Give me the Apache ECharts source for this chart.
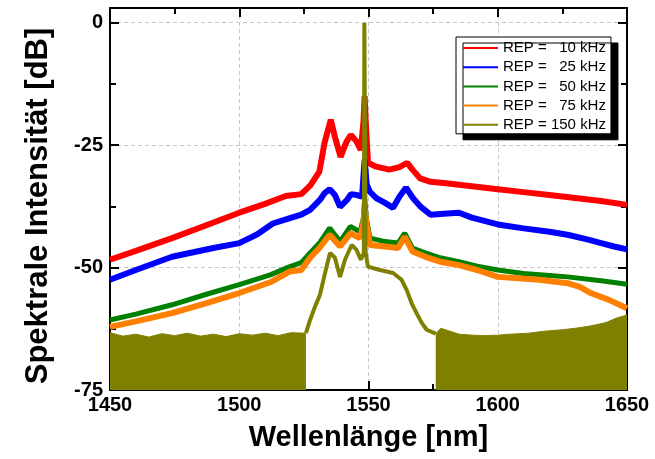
<!DOCTYPE html>
<html>
<head>
<meta charset="utf-8">
<script src="https://cdn.jsdelivr.net/npm/echarts@6/dist/echarts.min.js"></script>
<style>
html,body{margin:0;padding:0;background:#fff;}
#chart{width:655px;height:459px;}
</style>
</head>
<body>
<div id="chart"></div>
<script>
// ---- Data ----
const seriesNames = ['REP =   10 kHz', 'REP =   25 kHz', 'REP =   50 kHz', 'REP =   75 kHz', 'REP = 150 kHz'];
const xTicks = [1450, 1500, 1550, 1600, 1650];
const yTicks = [-75, -50, -25, 0];

const wlRed = [1450,1460,1474,1487,1500,1510,1518,1524,1527.5,1531,1533,1535.4,1537,1539.2,1541.5,1543.2,1545.4,1547,1548.1,1548.5,1548.9,1549.8,1553,1558,1562,1565,1567,1570,1574,1580,1590,1600,1610,1620,1630,1640,1650];
const dbRed = [-48.4,-46.6,-44,-41.4,-38.8,-37,-35.4,-35,-33.2,-30.4,-24.5,-19.8,-23.3,-27.4,-24.3,-22.9,-24.3,-26,-20,-15,-20,-28.6,-29.4,-30,-29.5,-28.6,-30,-31.8,-32.5,-32.8,-33.4,-34,-34.6,-35.2,-35.8,-36.4,-37.2];

const wlBlue = [1450,1460,1474,1490,1500,1507,1513,1519.6,1524,1527.4,1531.2,1533,1535,1537,1539,1541.7,1543.2,1545.5,1547.5,1548.5,1549.3,1550.5,1553,1556.4,1559.5,1562,1564.5,1567.2,1570,1574,1579,1585,1590,1600,1610,1620,1627,1635,1640,1645,1650];
const dbBlue = [-52.5,-50.5,-47.8,-46,-45,-43.2,-41,-39.9,-39.2,-38.2,-36.2,-34.8,-34,-35.2,-37.6,-36.2,-35,-35.2,-35.5,-28,-33,-34.5,-35.8,-36.8,-37.8,-35.5,-33.7,-35.8,-37.5,-39.2,-39,-38.8,-39.8,-41.2,-42,-42.7,-43.3,-44.3,-45,-45.7,-46.3];

const wlGreen = [1450,1460,1474,1487,1500,1512,1519.6,1524,1527.4,1531,1535,1539,1543,1546.7,1548,1548.5,1549.2,1550.6,1556.4,1561.4,1564,1567,1572,1577.7,1585,1592,1600,1610,1620,1627,1640,1650];
const dbGreen = [-60.7,-59.5,-57.6,-55.5,-53.5,-51.5,-49.8,-49,-47,-45,-41.9,-44.7,-41.6,-42.7,-40,-36,-40,-44,-44.7,-45,-43,-46,-47,-48,-48.8,-49.7,-50.5,-51.2,-51.6,-51.9,-52.7,-53.4];

const wlOrange = [1450,1460,1474,1487,1500,1512,1519.6,1524,1527.4,1531,1535,1539,1543,1546.7,1548,1548.5,1549.2,1550.6,1556.4,1561.4,1564,1567,1572,1577.7,1585,1592,1600,1616,1627,1632,1636,1643,1650];
const dbOrange = [-62.1,-61,-59.3,-57.3,-55.2,-53,-50.8,-50.5,-48,-46,-43.3,-45.7,-43,-44,-41,-38,-41,-45.4,-45.7,-46,-43.7,-46.7,-47.8,-48.8,-49.5,-50.5,-51.9,-52.5,-53.2,-54,-55.2,-56.6,-58.3];

const wlOlive = [1525.8,1527.4,1529.3,1531.2,1533.2,1535.1,1537,1539,1540.9,1543.5,1545.4,1547,1548.2,1548.4,1548.7,1548.9,1549.8,1554.4,1559.5,1562.8,1564.8,1566.7,1568.6,1570.6,1572.5,1576];
const dbOlive = [-63.4,-60.7,-58,-55.6,-51.1,-47,-48,-51.9,-48.4,-45.4,-46.4,-48.4,-47,0,0,-47,-49.8,-50.5,-51.1,-52.5,-54.6,-57.3,-59.3,-61.3,-62.7,-63.5];

const wlFloorLeft = [1450,1455,1460,1465,1470,1475,1480,1485,1490,1495,1500,1505,1510,1515,1520,1525.8];
const dbFloorLeft = [-63.3,-64,-63.6,-64.2,-63.5,-63.9,-63.4,-64,-63.6,-64.1,-63.5,-63.8,-63.4,-63.9,-63.3,-63.4];
const wlFloorRight = [1576,1578,1585,1590,1595,1600,1605,1612,1618,1625,1630,1635,1638,1642,1646,1650];
const dbFloorRight = [-63.5,-62.4,-63.6,-63.8,-63.9,-63.8,-63.6,-63.4,-63,-62.7,-62.4,-62,-61.7,-61.2,-60.3,-59.7];

const colors = ['#ff0000', '#0000ff', '#008000', '#ff8000', '#808000'];

// ---- Chart ----
function pairs(w, d) { return w.map((x, i) => [x, d[i]]); }
const FONT = '"Liberation Sans", Arial, sans-serif';

function lineSeries(name, data, color, width) {
  return {
    name: name, type: 'line', data: data, symbol: 'none', showSymbol: false,
    lineStyle: { color: color, width: width }, itemStyle: { color: color },
    emphasis: { disabled: true }, silent: true, z: 2
  };
}
function floorSeries(data) {
  return {
    name: seriesNames[4], type: 'line', data: data, symbol: 'none',
    lineStyle: { color: colors[4], width: 1 }, itemStyle: { color: colors[4] },
    areaStyle: { color: colors[4], opacity: 1, origin: 'start' },
    emphasis: { disabled: true }, silent: true, z: 2
  };
}

const axisLineStyle = { color: '#000', width: 2 };
function frameAxis(extra) {
  return Object.assign({
    axisLine: { show: true, onZero: false, lineStyle: axisLineStyle },
    axisTick: { show: true, inside: true, length: 9, lineStyle: { color: '#000', width: 2 } },
    minorTick: { show: true, splitNumber: 2, length: 6, lineStyle: { color: '#000', width: 2 } },
    splitLine: { show: false },
    axisLabel: { show: false }
  }, extra);
}

const chart = echarts.init(document.getElementById('chart'), null, { renderer: 'canvas' });
chart.setOption({
  animation: false,
  backgroundColor: '#fff',
  grid: { left: 110, right: 28, top: 8, bottom: 69, containLabel: false },
  legend: {
    data: seriesNames,
    orient: 'vertical',
    left: 456, top: 37,
    padding: [3, 5, 1, 6],
    itemWidth: 35, itemHeight: 14, itemGap: 3.2,
    backgroundColor: '#fff',
    borderColor: '#000', borderWidth: 1, borderRadius: 0,
    shadowColor: '#000', shadowBlur: 0, shadowOffsetX: 7, shadowOffsetY: 6,
    lineStyle: { width: 2 },
    itemStyle: { opacity: 0, borderWidth: 0 },
    textStyle: { color: '#000', fontSize: 15, fontFamily: FONT, lineHeight: 16 },
    selectedMode: false
  },
  xAxis: [
    frameAxis({
      type: 'value', position: 'bottom', min: xTicks[0], max: xTicks[xTicks.length - 1], interval: 50,
      axisLabel: { show: true, color: '#000', fontSize: 20, fontWeight: 'bold', fontFamily: FONT, margin: 5,
        formatter: v => String(v) },
      splitLine: { show: true, lineStyle: { color: '#c8c8c8', type: [4, 3], width: 1 } },
      name: 'Wellenlänge [nm]', nameLocation: 'middle', nameGap: 33,
      nameTextStyle: { color: '#000', fontSize: 29, fontWeight: 'bold', fontFamily: FONT }
    }),
    frameAxis({ type: 'value', position: 'top', min: xTicks[0], max: xTicks[xTicks.length - 1], interval: 50 })
  ],
  yAxis: [
    frameAxis({
      type: 'value', position: 'left', min: yTicks[0], max: 3, interval: 25,
      axisLabel: { show: true, color: '#000', fontSize: 20, fontWeight: 'bold', fontFamily: FONT, margin: 7,
        formatter: v => (yTicks.indexOf(v) >= 0 ? String(v) : '') },
      splitLine: { show: true, lineStyle: { color: '#c8c8c8', type: [4, 3], width: 1 } },
      name: 'Spektrale Intensität [dB]', nameLocation: 'middle', nameGap: 56,
      nameTextStyle: { color: '#000', fontSize: 31, fontWeight: 'bold', fontFamily: FONT, padding: [0, 14, 0, 0] }
    }),
    frameAxis({ type: 'value', position: 'right', min: yTicks[0], max: 3, interval: 25 })
  ],
  series: [
    lineSeries(seriesNames[0], pairs(wlRed, dbRed), colors[0], 6),
    lineSeries(seriesNames[1], pairs(wlBlue, dbBlue), colors[1], 6),
    lineSeries(seriesNames[2], pairs(wlGreen, dbGreen), colors[2], 5),
    lineSeries(seriesNames[3], pairs(wlOrange, dbOrange), colors[3], 6),
    lineSeries(seriesNames[4], pairs(wlOlive, dbOlive), colors[4], 4),
    floorSeries(pairs(wlFloorLeft, dbFloorLeft)),
    floorSeries(pairs(wlFloorRight, dbFloorRight))
  ]
});
</script>
</body>
</html>
